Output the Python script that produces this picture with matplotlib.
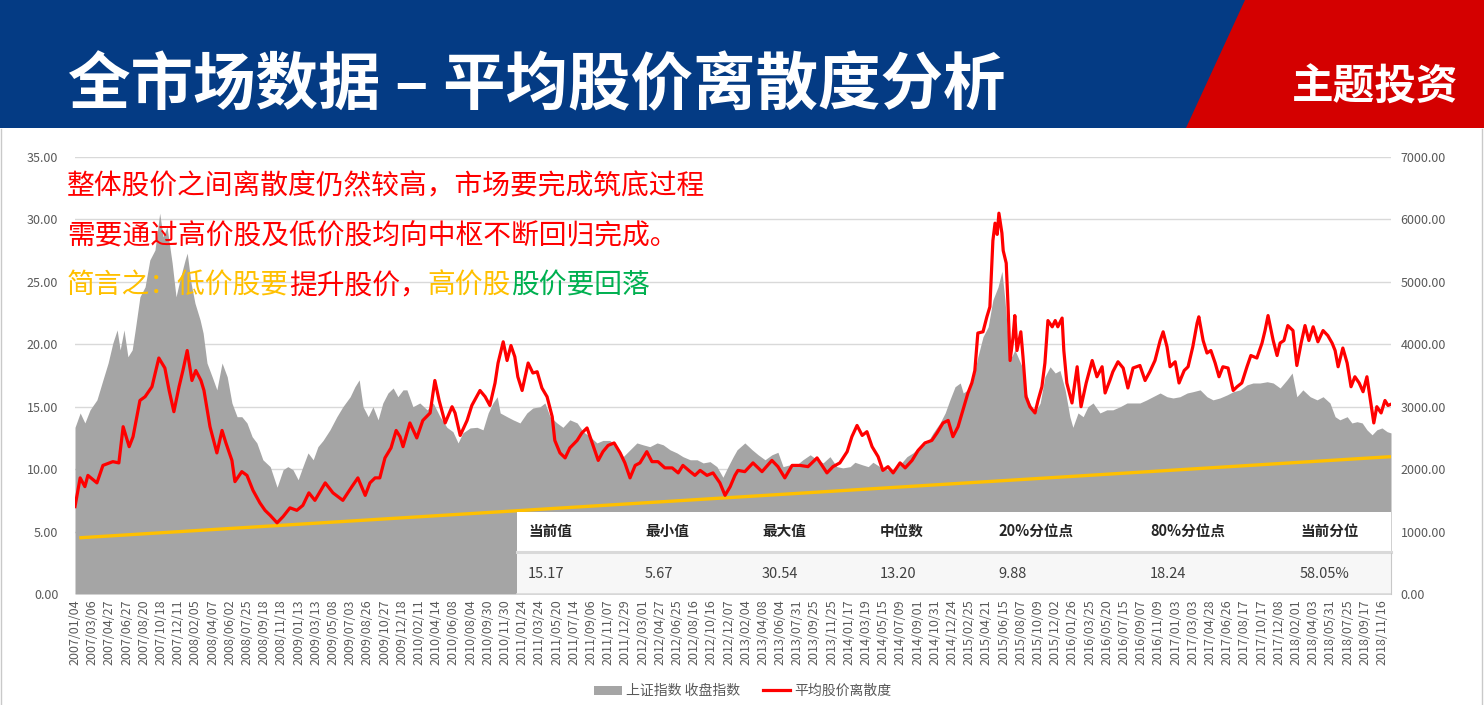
import numpy as np
import matplotlib
matplotlib.use('Agg')
import matplotlib.pyplot as plt
from matplotlib.patches import Rectangle, Polygon, Patch
from matplotlib.lines import Line2D
from matplotlib.ticker import FormatStrFormatter

plt.rcParams['font.family'] = ['Noto Sans CJK SC', 'DejaVu Sans']
plt.rcParams['axes.unicode_minus'] = False

W, H = 1484, 705

# x axis: trading-day index, one label every 40 days
tick_labels = [
    '2007/01/04', '2007/03/06', '2007/04/27', '2007/06/27', '2007/08/20', '2007/10/18', '2007/12/11',
    '2008/02/05', '2008/04/07', '2008/06/02', '2008/07/25', '2008/09/18', '2008/11/18',
    '2009/01/13', '2009/03/13', '2009/05/08', '2009/07/03', '2009/08/26', '2009/10/27', '2009/12/18',
    '2010/02/11', '2010/04/14', '2010/06/08', '2010/08/04', '2010/09/30', '2010/11/30',
    '2011/01/24', '2011/03/24', '2011/05/20', '2011/07/14', '2011/09/06', '2011/11/07', '2011/12/29',
    '2012/03/01', '2012/04/27', '2012/06/25', '2012/08/16', '2012/10/16', '2012/12/07',
    '2013/02/04', '2013/04/08', '2013/06/04', '2013/07/31', '2013/09/25', '2013/11/25',
    '2014/01/17', '2014/03/19', '2014/05/15', '2014/07/09', '2014/09/01', '2014/10/31', '2014/12/24',
    '2015/02/25', '2015/04/21', '2015/06/15', '2015/08/07', '2015/10/09', '2015/12/02',
    '2016/01/26', '2016/03/25', '2016/05/20', '2016/07/15', '2016/09/07', '2016/11/09',
    '2017/01/03', '2017/03/03', '2017/04/28', '2017/06/26', '2017/08/17', '2017/10/17', '2017/12/08',
    '2018/02/01', '2018/04/03', '2018/05/31', '2018/07/25', '2018/09/17', '2018/11/16',
]
tick_step = 40
last_day = 3061

# 平均股价离散度 (left axis)
disp_day = [
    0, 12, 23, 30, 51, 65, 88, 102, 112, 126, 135, 151, 163, 179, 195, 209, 219, 230, 242, 251,
    261, 272, 281, 293, 300, 314, 330, 342, 351, 365, 372, 388, 400, 414, 430, 442, 454, 470, 484, 500,
    516, 530, 544, 558, 582, 600, 623, 644, 658, 675, 686, 698, 709, 721, 735, 747, 756, 763, 779, 795,
    809, 826, 837, 847, 861, 877, 884, 896, 912, 923, 942, 954, 965, 977, 984, 996, 1005, 1014, 1023, 1030,
    1040, 1054, 1065, 1075, 1086, 1098, 1110, 1116, 1128, 1140, 1151, 1168, 1179, 1191, 1203, 1217, 1228, 1240, 1254, 1268,
    1279, 1291, 1303, 1314, 1330, 1342, 1356, 1372, 1389, 1403, 1414, 1431, 1442, 1454, 1470, 1484, 1500, 1512, 1524, 1535,
    1542, 1558, 1577, 1598, 1621, 1635, 1651, 1668, 1686, 1705, 1726, 1749, 1763, 1779, 1796, 1807, 1819, 1831, 1842, 1854,
    1868, 1879, 1891, 1903, 1919, 1931, 1947, 1961, 1977, 1993, 2005, 2019, 2031, 2042, 2054, 2065, 2077, 2086, 2093, 2100,
    2112, 2121, 2128, 2133, 2135, 2140, 2145, 2149, 2156, 2159, 2166, 2170, 2175, 2182, 2186, 2191, 2200, 2205, 2212, 2221,
    2233, 2240, 2249, 2256, 2263, 2273, 2280, 2286, 2296, 2300, 2307, 2319, 2331, 2340, 2352, 2366, 2377, 2389, 2396, 2407,
    2414, 2426, 2438, 2449, 2461, 2477, 2489, 2500, 2512, 2524, 2531, 2540, 2547, 2559, 2568, 2580, 2589, 2600, 2610, 2614,
    2624, 2633, 2642, 2652, 2661, 2670, 2682, 2694, 2703, 2714, 2726, 2735, 2749, 2761, 2768, 2775, 2787, 2796, 2803, 2812,
    2821, 2833, 2842, 2852, 2861, 2870, 2880, 2891, 2903, 2914, 2924, 2931, 2938, 2949, 2959, 2968, 2977, 2987, 2996, 3005,
    3014, 3021, 3028, 3038, 3047, 3054, 3061,
]
disp_val = [
    7.0, 9.3, 8.6, 9.5, 8.9, 10.3, 10.6, 10.5, 13.4, 11.8, 12.6, 15.5, 15.8, 16.6, 18.9, 18.1, 16.3, 14.6, 16.6, 17.9,
    19.5, 17.1, 17.9, 17.1, 16.3, 13.4, 11.3, 13.1, 12.1, 10.7, 9.0, 9.8, 9.5, 8.3, 7.3, 6.7, 6.3, 5.7, 6.2, 6.9,
    6.7, 7.1, 8.1, 7.5, 8.9, 8.1, 7.5, 8.6, 9.3, 7.9, 8.9, 9.3, 9.3, 10.9, 11.7, 13.1, 12.6, 11.8, 13.7, 12.5,
    13.9, 14.5, 17.1, 15.5, 13.7, 15.0, 14.5, 12.7, 13.9, 15.1, 16.3, 15.8, 15.1, 16.9, 18.5, 20.2, 18.7, 19.9, 19.0, 17.4,
    16.3, 18.5, 17.7, 17.8, 16.5, 15.8, 14.2, 12.3, 11.3, 10.9, 11.7, 12.3, 12.9, 13.3, 12.1, 10.7, 11.4, 11.9, 12.1, 11.3,
    10.5, 9.3, 10.3, 10.5, 11.4, 10.6, 10.6, 10.1, 10.1, 9.7, 10.3, 9.8, 9.5, 9.9, 9.5, 9.7, 8.9, 7.9, 8.6, 9.5,
    9.9, 9.8, 10.5, 9.8, 10.7, 10.2, 9.3, 10.3, 10.3, 10.2, 10.9, 9.7, 10.2, 10.5, 11.4, 12.6, 13.5, 12.7, 13.0, 11.8,
    11.0, 9.9, 10.2, 9.7, 10.5, 10.1, 10.7, 11.5, 12.1, 12.3, 12.9, 13.7, 13.9, 12.6, 13.4, 14.7, 16.1, 16.9, 17.9, 20.9,
    21.0, 22.2, 23.0, 26.7, 28.3, 29.7, 28.8, 30.5, 28.9, 27.5, 26.5, 23.3, 18.7, 20.6, 22.3, 19.5, 21.0, 19.0, 15.8, 15.0,
    14.5, 15.5, 16.6, 18.5, 21.9, 21.4, 21.9, 21.4, 22.1, 19.5, 16.9, 15.3, 18.2, 15.0, 16.9, 18.7, 17.4, 18.2, 16.1, 17.1,
    17.8, 18.6, 18.1, 16.5, 18.1, 18.3, 17.1, 17.8, 18.7, 20.3, 21.0, 19.8, 18.2, 18.6, 16.9, 17.9, 18.2, 19.8, 21.7, 22.2,
    20.3, 19.3, 19.5, 18.5, 17.4, 18.2, 18.1, 16.3, 16.6, 16.9, 18.2, 19.1, 18.9, 20.1, 21.1, 22.3, 20.3, 19.1, 20.1, 20.3,
    21.5, 21.1, 18.3, 20.1, 21.5, 20.3, 21.4, 20.2, 21.1, 20.7, 20.1, 19.5, 18.2, 19.7, 18.5, 16.6, 17.4, 16.9, 16.2, 17.4,
    15.3, 13.7, 15.0, 14.5, 15.5, 15.1, 15.2,
]

# 上证指数 收盘指数 (right axis)
idx_day = [
    0, 12, 23, 35, 51, 65, 77, 88, 98, 105, 114, 123, 133, 140, 151, 163, 174, 186, 197, 205,
    214, 226, 235, 244, 256, 261, 270, 279, 291, 298, 307, 319, 330, 342, 354, 365, 377, 388, 400, 412,
    423, 437, 454, 470, 484, 495, 507, 519, 530, 542, 554, 565, 577, 593, 609, 623, 640, 651, 661, 670,
    682, 693, 705, 716, 728, 740, 751, 763, 772, 786, 802, 819, 833, 849, 865, 879, 891, 902, 919, 935,
    949, 961, 972, 982, 989, 1005, 1019, 1035, 1051, 1065, 1082, 1093, 1105, 1121, 1135, 1151, 1168, 1182, 1198, 1214,
    1228, 1244, 1261, 1275, 1291, 1307, 1321, 1337, 1354, 1368, 1384, 1400, 1414, 1431, 1447, 1461, 1477, 1493, 1507, 1519,
    1531, 1540, 1558, 1575, 1589, 1605, 1621, 1635, 1647, 1663, 1679, 1693, 1710, 1726, 1740, 1756, 1772, 1786, 1803, 1814,
    1831, 1845, 1856, 1872, 1889, 1903, 1919, 1935, 1949, 1965, 1982, 1996, 2012, 2024, 2035, 2047, 2059, 2066, 2077, 2089,
    2100, 2112, 2124, 2135, 2147, 2156, 2163, 2170, 2179, 2186, 2193, 2203, 2210, 2221, 2233, 2245, 2256, 2268, 2280, 2291,
    2303, 2314, 2321, 2333, 2345, 2356, 2368, 2384, 2400, 2414, 2431, 2447, 2461, 2477, 2493, 2507, 2524, 2540, 2554, 2570,
    2587, 2600, 2617, 2633, 2647, 2663, 2680, 2694, 2710, 2726, 2740, 2756, 2773, 2787, 2803, 2819, 2831, 2842, 2856, 2873,
    2889, 2903, 2919, 2931, 2942, 2959, 2970, 2982, 2994, 3005, 3017, 3028, 3040, 3052, 3061,
]
idx_val = [
    2670, 2900, 2740, 2950, 3110, 3430, 3700, 4020, 4230, 3910, 4230, 3800, 3910, 4230, 4760, 4920, 5350, 5510, 6100, 5720,
    5880, 5300, 4760, 5030, 5350, 5460, 4980, 4660, 4390, 4180, 3700, 3480, 3270, 3700, 3480, 3060, 2840, 2840, 2740, 2520,
    2420, 2150, 2040, 1710, 1990, 2040, 1990, 1830, 2040, 2260, 2150, 2360, 2460, 2630, 2840, 3000, 3160, 3320, 3430, 3000,
    2840, 3000, 2790, 3060, 3220, 3300, 3160, 3270, 3270, 3000, 3060, 2950, 3060, 2840, 2670, 2600, 2420, 2580, 2660, 2670,
    2630, 2900, 3060, 3160, 2900, 2840, 2790, 2740, 2900, 2980, 3000, 3060, 2840, 2740, 2670, 2790, 2740, 2600, 2520, 2420,
    2460, 2460, 2360, 2200, 2310, 2420, 2390, 2360, 2420, 2390, 2310, 2260, 2200, 2150, 2150, 2100, 2120, 2040, 1870, 2040,
    2200, 2310, 2420, 2310, 2230, 2150, 2230, 2270, 2040, 2070, 2070, 2150, 2230, 2150, 2100, 2200, 2040, 2020, 2040, 2110,
    2070, 2040, 2110, 2040, 1990, 1990, 2070, 2200, 2260, 2360, 2420, 2580, 2740, 2900, 3110, 3320, 3380, 3220, 3270, 3430,
    3800, 4120, 4280, 4710, 4920, 5170, 4710, 4120, 3800, 3910, 3800, 3640, 3270, 3060, 2900, 3060, 3480, 3640, 3540, 3580,
    3270, 2840, 2670, 2900, 2840, 3000, 3060, 2900, 2950, 2950, 3000, 3060, 3060, 3060, 3110, 3160, 3220, 3160, 3140, 3160,
    3220, 3240, 3270, 3160, 3110, 3140, 3190, 3240, 3270, 3350, 3380, 3380, 3400, 3380, 3300, 3430, 3540, 3160, 3270, 3160,
    3110, 3160, 3060, 2840, 2790, 2840, 2740, 2760, 2740, 2630, 2550, 2630, 2660, 2600, 2580,
]

# linear trend of the dispersion (start / end)
trend_day = [10, 3061]
trend_val = [4.5, 11.0]

table_head = ['当前值', '最小值', '最大值', '中位数', '20%分位点', '80%分位点', '当前分位']
table_vals = ['15.17', '5.67', '30.54', '13.20', '9.88', '18.24', '58.05%']

note_line1 = '整体股价之间离散度仍然较高，市场要完成筑底过程'
note_line2 = '需要通过高价股及低价股均向中枢不断回归完成。'
note_line3 = [('简言之：低价股要', '#FFC000'), ('提升股价，', '#FF0000'),
              ('高价股', '#FFC000'), ('股价要回落', '#00B050')]


def fx(x):
    return x / W


def fy(y):
    return 1 - y / H


fig = plt.figure(figsize=(W / 100, H / 100), dpi=100)
fig.patch.set_facecolor('white')

# header band
fig.add_artist(Rectangle((0, fy(128)), 1, 128 / H, transform=fig.transFigure,
                         fc='#043B84', ec='none', zorder=1))
fig.add_artist(Polygon([(fx(1245), 1), (1, 1), (1, fy(128)), (fx(1186), fy(128))],
                       closed=True, transform=fig.transFigure, fc='#D40000', ec='none', zorder=1))
fig.text(fx(68), fy(86), '全市场数据 – 平均股价离散度分析', color='white', fontsize=45,
         fontweight='bold', ha='left', va='center', zorder=2)
fig.text(fx(1375), fy(88), '主题投资', color='white', fontsize=30,
         fontweight='bold', ha='center', va='center', zorder=2)

# thin panel border
for xb in (1, 1482):
    fig.add_artist(Line2D([fx(xb), fx(xb)], [0, fy(129)], transform=fig.transFigure,
                          color='#C9C9C9', lw=1, zorder=1))

# chart
ax = fig.add_axes([fx(75), fy(594), (1391 - 75) / W, (594 - 157) / H])
ax_idx = ax.twinx()
ax.set_zorder(ax_idx.get_zorder() + 1)
ax.patch.set_visible(False)

ax_idx.fill_between(idx_day, idx_val, 0, color='#A5A5A5', lw=0, zorder=2)
ax_idx.set_ylim(0, 7000)
ax_idx.set_yticks(np.arange(0, 7001, 1000))
ax_idx.yaxis.set_major_formatter(FormatStrFormatter('%.2f'))
ax_idx.set_axisbelow(True)
ax_idx.yaxis.grid(True, color='#D9D9D9', lw=1)

ax.plot(trend_day, trend_val, color='#FFC000', lw=2.4, zorder=2, solid_capstyle='butt')
ax.plot(disp_day, disp_val, color='#FF0000', lw=2.3, zorder=3)
ax.set_ylim(0, 35)
ax.set_yticks(np.arange(0, 36, 5))
ax.yaxis.set_major_formatter(FormatStrFormatter('%.2f'))
ax.set_xlim(0, last_day)
ax.set_xticks(np.arange(len(tick_labels)) * tick_step)
ax.set_xticklabels(tick_labels, rotation=90)

for a in (ax, ax_idx):
    for sp in a.spines.values():
        sp.set_visible(False)
ax.tick_params(axis='y', length=0, pad=12, labelsize=9, labelcolor='#595959')
ax.tick_params(axis='x', length=0, pad=4, labelsize=9, labelcolor='#595959')
ax_idx.tick_params(axis='y', length=0, pad=7, labelsize=9, labelcolor='#595959')

# notes
fig.text(fx(67), fy(186), note_line1, color='#FF0000', fontsize=20, va='center', zorder=4)
fig.text(fx(67), fy(236), note_line2, color='#FF0000', fontsize=20, va='center', zorder=4)
t = fig.text(fx(67), fy(286), note_line3[0][0], color=note_line3[0][1], fontsize=20,
             va='center', zorder=4)
for s, c in note_line3[1:]:
    t = ax.annotate(s, xy=(1, 0), xycoords=t, va='bottom', ha='left', color=c, fontsize=20)

# stats table
tl, tr = 517, 1391
fig.add_artist(Rectangle((fx(tl), fy(552)), (tr - tl) / W, 40 / H, transform=fig.transFigure,
                         fc='white', ec='none', zorder=5))
fig.add_artist(Rectangle((fx(tl), fy(594)), (tr - tl) / W, 41 / H, transform=fig.transFigure,
                         fc='#F7F7F7', ec='none', zorder=5))
fig.add_artist(Line2D([fx(tl), fx(tr)], [fy(552), fy(552)], transform=fig.transFigure,
                      color='#D9D9D9', lw=2.2, zorder=6))
fig.add_artist(Line2D([fx(tl), fx(tr)], [fy(594), fy(594)], transform=fig.transFigure,
                      color='#D9D9D9', lw=1.2, zorder=6))
fig.add_artist(Line2D([fx(tr), fx(tr)], [fy(594), fy(553)], transform=fig.transFigure,
                      color='#C8C8C8', lw=0.8, zorder=6))
col_x = [528, 645, 762, 880, 998, 1150, 1300]
for xc, hd, vl in zip(col_x, table_head, table_vals):
    fig.text(fx(xc), fy(531), hd, color='#262626', fontsize=10.5, fontweight='bold',
             ha='left', va='center', zorder=7)
    fig.text(fx(xc), fy(574), vl, color='#404040', fontsize=10.5,
             ha='left', va='center', zorder=7)

# legend
handles = [Patch(fc='#A5A5A5', ec='none'), Line2D([], [], color='#FF0000', lw=2.3)]
fig.legend(handles, ['上证指数 收盘指数', '平均股价离散度'], loc='center',
           bbox_to_anchor=(fx(743), fy(691)), ncol=2, frameon=False, fontsize=10,
           labelcolor='#595959', handlelength=2.0, handleheight=0.6,
           handletextpad=0.3, columnspacing=1.6)

fig.savefig('out.png', dpi=100)
